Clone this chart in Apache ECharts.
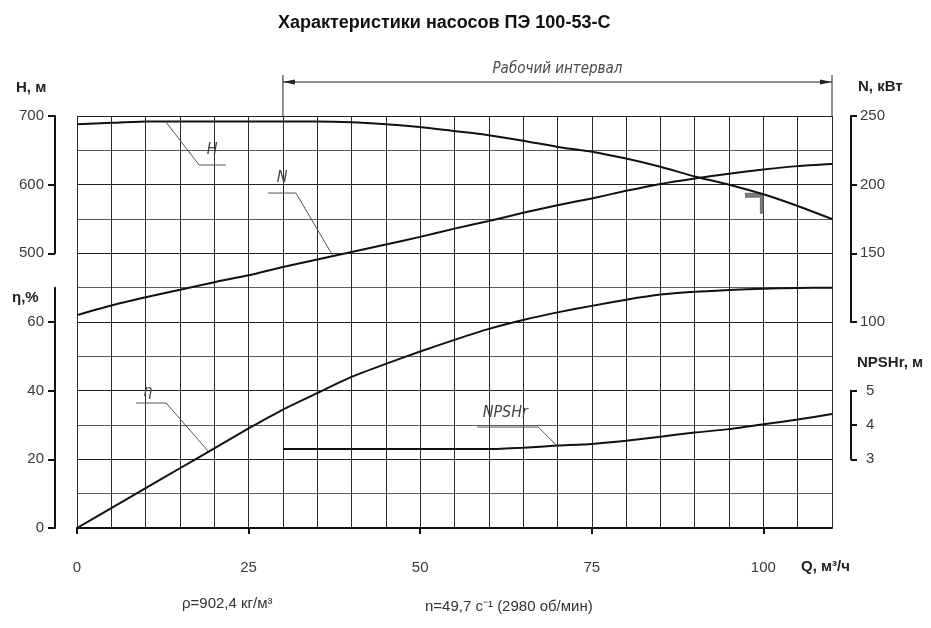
<!DOCTYPE html>
<html><head><meta charset="utf-8">
<script src="https://cdn.jsdelivr.net/npm/echarts@6/dist/echarts.min.js"></script>
<style>html,body{margin:0;padding:0;background:#fff}#c{width:931px;height:628px}</style>
</head><body><div id="c"></div>
<script>
// ---- data ----
const flowQ   = [0, 5, 10, 15, 20, 25, 30, 35, 40, 45, 50, 55, 60, 65, 70, 75, 80, 85, 90, 95, 100, 105, 110];
const headH   = [688, 690, 692, 692, 692, 692, 692, 692, 691, 688, 684, 678, 672, 664, 655, 648, 638, 626, 612, 600, 586, 569, 550];
const powerN  = [105, 112, 118, 123.5, 129, 134, 140, 145.5, 151, 156.5, 162, 168, 173.5, 179.5, 185, 190, 195.5, 200.5, 204.5, 208, 211, 213.5, 215];
const effEta  = [0, 5.8, 11.6, 17.4, 23.2, 29, 34.5, 39.3, 44, 47.8, 51.4, 54.8, 58, 60.6, 62.8, 64.7, 66.5, 68, 68.8, 69.3, 69.7, 69.9, 70];
const npshR   = [null, null, null, null, null, null, 3.3, 3.3, 3.3, 3.3, 3.3, 3.3, 3.3, 3.34, 3.4, 3.45, 3.54, 3.66, 3.78, 3.88, 4.02, 4.16, 4.32];
const dutyQ   = 100;
const workRange = [30, 110];
const xTicks    = [0, 25, 50, 75, 100];
const hTicks    = [500, 600, 700];
const etaTicks  = [0, 20, 40, 60];
const nTicks    = [100, 150, 200, 250];
const npshTicks = [3, 4, 5];

const pairs = (ys) => flowQ.map((q, i) => [q, ys[i]]);

const FONT = "'Liberation Sans', Arial, sans-serif";
const NARROW = "'Liberation Sans Narrow', 'DejaVu Sans Condensed', 'Liberation Sans', sans-serif";
const lbl = { color: '#3a3a3a', fontSize: 15, fontFamily: FONT };
const axLine = { show: true, lineStyle: { color: '#111', width: 2 } };
const hidden = { show: false };

const chart = echarts.init(document.getElementById('c'), null, { renderer: 'canvas' });

const G = { left: 77, top: 116, width: 755, height: 412 };
const unit = G.height / 12;

const option = {
  animation: false,
  backgroundColor: '#fff',
  title: {
    text: 'Характеристики насосов ПЭ 100-53-С',
    left: 273, top: 9,
    textStyle: { fontFamily: FONT, fontSize: 18, fontWeight: 'bold', color: '#111' }
  },
  grid: [
    { left: G.left, top: G.top, width: G.width, height: G.height },
    { left: 55, top: G.top, width: 1, height: unit * 4 },
    { left: 55, top: G.top + G.height - unit * 7, width: 1, height: unit * 7 },
    { left: 851, top: G.top, width: 1, height: unit * 6 },
    { left: 851, top: G.top + G.height - unit * 4, width: 1, height: unit * 2 }
  ],
  xAxis: [
    { gridIndex: 0, type: 'value', min: 0, max: 110, interval: 5,
      axisLine: hidden, axisTick: hidden, axisLabel: hidden,
      splitLine: { show: true, lineStyle: { color: '#2a2a2a', width: 1 } } },
    { gridIndex: 0, type: 'value', min: 0, max: 110, position: 'bottom', offset: 20,
      axisLine: axLine,
      axisTick: { show: true, length: 6, lineStyle: { color: '#111', width: 2 }, customValues: xTicks },
      axisLabel: Object.assign({ margin: 12, customValues: xTicks }, lbl),
      splitLine: hidden },
    { gridIndex: 1, type: 'value', show: false },
    { gridIndex: 2, type: 'value', show: false },
    { gridIndex: 3, type: 'value', show: false },
    { gridIndex: 4, type: 'value', show: false }
  ],
  yAxis: [
    { gridIndex: 0, type: 'value', min: 100, max: 700, show: false },
    { gridIndex: 0, type: 'value', min: -50, max: 250, show: false },
    { gridIndex: 0, type: 'value', min: 0, max: 120, interval: 10,
      axisLine: hidden, axisTick: hidden, axisLabel: hidden,
      splitLine: { show: true, lineStyle: { color: ['#222', '#5a5a5a'], width: 1 } } },
    { gridIndex: 0, type: 'value', min: 1, max: 13, show: false },
    { gridIndex: 1, type: 'value', min: 500, max: 700, interval: 100, position: 'left',
      axisLine: axLine, axisTick: { show: true, length: 7, lineStyle: { color: '#111', width: 2 } },
      axisLabel: Object.assign({ margin: 11 }, lbl), splitLine: hidden },
    { gridIndex: 2, type: 'value', min: 0, max: 70, position: 'left',
      axisLine: axLine,
      axisTick: { show: true, length: 7, lineStyle: { color: '#111', width: 2 }, customValues: etaTicks },
      axisLabel: Object.assign({ margin: 11, customValues: etaTicks }, lbl), splitLine: hidden },
    { gridIndex: 3, type: 'value', min: 100, max: 250, interval: 50, position: 'right',
      axisLine: axLine, axisTick: { show: true, length: 6, lineStyle: { color: '#111', width: 2 } },
      axisLabel: Object.assign({ margin: 8 }, lbl), splitLine: hidden },
    { gridIndex: 4, type: 'value', min: 3, max: 5, interval: 1, position: 'right',
      axisLine: axLine, axisTick: { show: true, length: 6, lineStyle: { color: '#111', width: 2 } },
      axisLabel: Object.assign({ margin: 14 }, lbl), splitLine: hidden }
  ],
  series: [
    { name: 'H', type: 'line', xAxisIndex: 0, yAxisIndex: 0, data: pairs(headH), showSymbol: false, smooth: 0.2,
      lineStyle: { color: '#111', width: 2 } },
    { name: 'N', type: 'line', xAxisIndex: 0, yAxisIndex: 1, data: pairs(powerN), showSymbol: false, smooth: 0.2,
      lineStyle: { color: '#111', width: 2 } },
    { name: 'η', type: 'line', xAxisIndex: 0, yAxisIndex: 2, data: pairs(effEta), showSymbol: false, smooth: 0.2,
      lineStyle: { color: '#111', width: 2 } },
    { name: 'NPSHr', type: 'line', xAxisIndex: 0, yAxisIndex: 3, data: pairs(npshR), showSymbol: false, smooth: 0.2,
      connectNulls: false, lineStyle: { color: '#111', width: 2 } },
    { name: 'duty', type: 'scatter', xAxisIndex: 0, yAxisIndex: 0,
      data: [[dutyQ, headH[flowQ.indexOf(dutyQ)]]],
      symbol: 'path://M0,0L19,0L19,21L15,21L15,5L0,5Z', symbolSize: [19, 21], symbolOffset: [-9, 9],
      itemStyle: { color: '#555' }, z: 1 }
  ]
};
chart.setOption(option);

// ---- annotations placed through the chart's own scales ----
const px = (yIdx, q, v) => chart.convertToPixel({ xAxisIndex: 0, yAxisIndex: yIdx }, [q, v]);
const xOf = (q) => chart.convertToPixel({ xAxisIndex: 0 }, q);
const topY = G.top;

const ann = [];
const thin = { stroke: '#555', lineWidth: 1 };
function leader(yIdx, anchor, elbow, endQ, textPos, txt) {
  const a = px(yIdx, anchor[0], anchor[1]);
  const e = px(yIdx, elbow[0], elbow[1]);
  const s = px(yIdx, endQ, elbow[1]);
  const t = px(yIdx, textPos[0], textPos[1]);
  ann.push({ type: 'polyline', shape: { points: [a, e, s] }, style: thin, z: 50 });
  ann.push({ type: 'text', x: t[0], y: t[1], style: { text: txt, fill: '#444', font: 'italic 16px ' + NARROW, align: 'center', verticalAlign: 'middle' }, z: 50 });
}
leader(0, [12.9, 692], [17.8, 628.6], 21.7, [19.7, 650], 'H');
leader(1, [37.3, 148], [31.9, 193.9], 27.8, [29.9, 204.9], 'N');
leader(2, [19.1, 22.4], [13, 36.4], 8.6, [10.3, 39.6], 'η');
leader(3, [69.9, 3.4], [67.2, 3.94], 58.3, [62.4, 4.35], 'NPSHr');

// working interval
const xa = xOf(workRange[0]), xb = xOf(workRange[1]);
const ay = 82;
ann.push({ type: 'line', shape: { x1: xa, y1: ay, x2: xb, y2: ay }, style: { stroke: '#222', lineWidth: 1 } });
ann.push({ type: 'line', shape: { x1: xa, y1: 75, x2: xa, y2: topY }, style: { stroke: '#222', lineWidth: 1 } });
ann.push({ type: 'line', shape: { x1: xb, y1: 75, x2: xb, y2: topY }, style: { stroke: '#222', lineWidth: 1 } });
ann.push({ type: 'polygon', shape: { points: [[xa, ay], [xa + 12, ay - 2.5], [xa + 12, ay + 2.5]] }, style: { fill: '#222' } });
ann.push({ type: 'polygon', shape: { points: [[xb, ay], [xb - 12, ay - 2.5], [xb - 12, ay + 2.5]] }, style: { fill: '#222' } });
ann.push({ type: 'text', x: xOf((workRange[0] + workRange[1]) / 2), y: 69,
  style: { text: 'Рабочий интервал', fill: '#4a4a4a', font: 'italic 15px ' + NARROW, align: 'center', verticalAlign: 'middle' } });

// axis names and footnotes
const bold = (t, x, y, align) => ann.push({ type: 'text', x, y,
  style: { text: t, fill: '#222', font: 'bold 15px ' + FONT, align: align || 'left', verticalAlign: 'middle' } });
bold('H, м', 16, 88);
bold('η,%', 12, 298);
bold('N, кВт', 858, 87);
bold('NPSHr, м', 857, 363);
bold('Q, м³/ч', 801, 567);
const note = (t, x, y) => ann.push({ type: 'text', x, y,
  style: { text: t, fill: '#333', font: '15px ' + FONT, align: 'left', verticalAlign: 'middle' } });
note('ρ=902,4 кг/м³', 182, 604);
note('n=49,7 с⁻¹ (2980 об/мин)', 425, 607);

chart.setOption({ graphic: ann });
</script>
</body></html>
